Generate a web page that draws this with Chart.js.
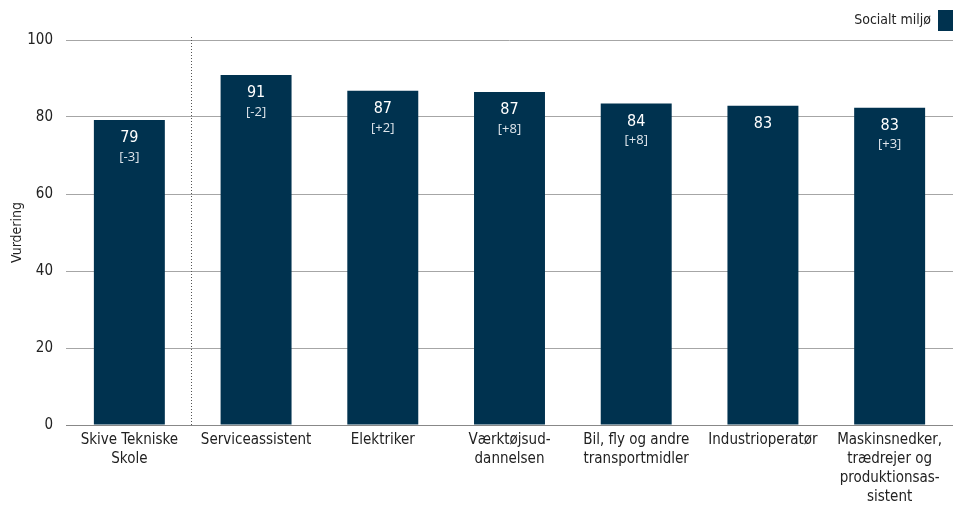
<!DOCTYPE html>
<html>
<head>
<meta charset="utf-8">
<script src="https://cdn.jsdelivr.net/npm/chart.js@4"></script>
<style>
  html, body { margin: 0; padding: 0; background: #fff; }
  #wrap { width: 953px; height: 505px; position: relative; }
</style>
</head>
<body>
<div id="wrap"><canvas id="chart"></canvas></div>
<script>
const categories = [
    ['Skive Tekniske', 'Skole'],
    'Serviceassistent',
    'Elektriker',
    ['Værktøjsud-', 'dannelsen'],
    ['Bil, fly og andre', 'transportmidler'],
    'Industrioperatør',
    ['Maskinsnedker,', 'trædrejer og', 'produktionsas-', 'sistent']
];
const values = [79.2, 90.9, 86.8, 86.5, 83.5, 82.9, 82.4];
const valueLabels = ['79', '91', '87', '87', '84', '83', '83'];
const diffLabels = ['[-3]', '[-2]', '[+2]', '[+8]', '[+8]', '', '[+3]'];
const yTicks = [0, 20, 40, 60, 80, 100];
const seriesName = 'Socialt miljø';

const barColor = '#00324f';
const fontFamily = '"DejaVu Sans Condensed", "DejaVu Sans", sans-serif';

// legend drawn by hand: text left of the square, top right corner
const legendBox = {
    id: 'legendBox',
    afterDraw(chart) {
        const ctx = chart.ctx;
        const right = chart.width;
        ctx.save();
        ctx.fillStyle = barColor;
        ctx.fillRect(right - 15, 10, 15, 21);
        ctx.fillStyle = '#222';
        ctx.font = '14px ' + fontFamily;
        ctx.textAlign = 'right';
        ctx.textBaseline = 'middle';
        ctx.fillText(seriesName, right - 22, 20);
        ctx.restore();
    }
};

const barLabels = {
    id: 'barLabels',
    afterDatasetsDraw(chart) {
        const ctx = chart.ctx;
        const meta = chart.getDatasetMeta(0);
        ctx.save();
        ctx.textAlign = 'center';
        ctx.textBaseline = 'middle';
        meta.data.forEach(function (bar, i) {
            ctx.fillStyle = '#ffffff';
            ctx.font = '16px ' + fontFamily;
            ctx.fillText(valueLabels[i], bar.x, bar.y + 18);
            if (diffLabels[i]) {
                ctx.fillStyle = '#dfe6ec';
                ctx.font = '13px "Open Sans", sans-serif';
                ctx.fillText(diffLabels[i], bar.x, bar.y + 37);
            }
        });
        ctx.restore();
    }
};

const divider = {
    id: 'divider',
    afterDatasetsDraw(chart) {
        const ctx = chart.ctx;
        const x = chart.scales.x;
        const y = chart.scales.y;
        const pos = (x.getPixelForValue(0) + x.getPixelForValue(1)) / 2 - 2;
        ctx.save();
        ctx.strokeStyle = '#555';
        ctx.lineWidth = 1;
        ctx.setLineDash([1, 2]);
        ctx.beginPath();
        ctx.moveTo(Math.round(pos) + 0.5, y.getPixelForValue(100) - 3);
        ctx.lineTo(Math.round(pos) + 0.5, y.getPixelForValue(0));
        ctx.stroke();
        ctx.restore();
    }
};

new Chart(document.getElementById('chart').getContext('2d'), {
    type: 'bar',
    data: {
        labels: categories,
        datasets: [{
            label: seriesName,
            data: values,
            backgroundColor: barColor,
            categoryPercentage: 1,
            barPercentage: 0.56
        }]
    },
    options: {
        responsive: true,
        maintainAspectRatio: false,
        animation: false,
        layout: { padding: { left: 9, right: 0, top: 40, bottom: 0 } },
        plugins: {
            legend: { display: false },
            tooltip: { enabled: false }
        },
        scales: {
            x: {
                afterFit(axis) {
                    axis.height = 80;
                },
                grid: { display: false, drawTicks: false },
                border: { color: '#888' },
                ticks: {
                    color: '#222',
                    maxRotation: 0,
                    autoSkip: false,
                    padding: 6,
                    font: { family: fontFamily, size: 15, lineHeight: 1.25 }
                }
            },
            y: {
                min: 0,
                max: 100,
                afterBuildTicks(axis) {
                    axis.ticks = yTicks.map(function (v) { return { value: v }; });
                },
                afterFit(axis) {
                    axis.width = 57;
                },
                grid: { color: '#a6a6a6', drawTicks: false },
                border: { display: false },
                ticks: {
                    color: '#222',
                    padding: 13,
                    font: { family: fontFamily, size: 15 }
                },
                title: {
                    display: true,
                    text: 'Vurdering',
                    color: '#222',
                    font: { family: fontFamily, size: 14 },
                    padding: { top: 0, bottom: 0 }
                }
            }
        }
    },
    plugins: [barLabels, divider, legendBox]
});
</script>
</body>
</html>
